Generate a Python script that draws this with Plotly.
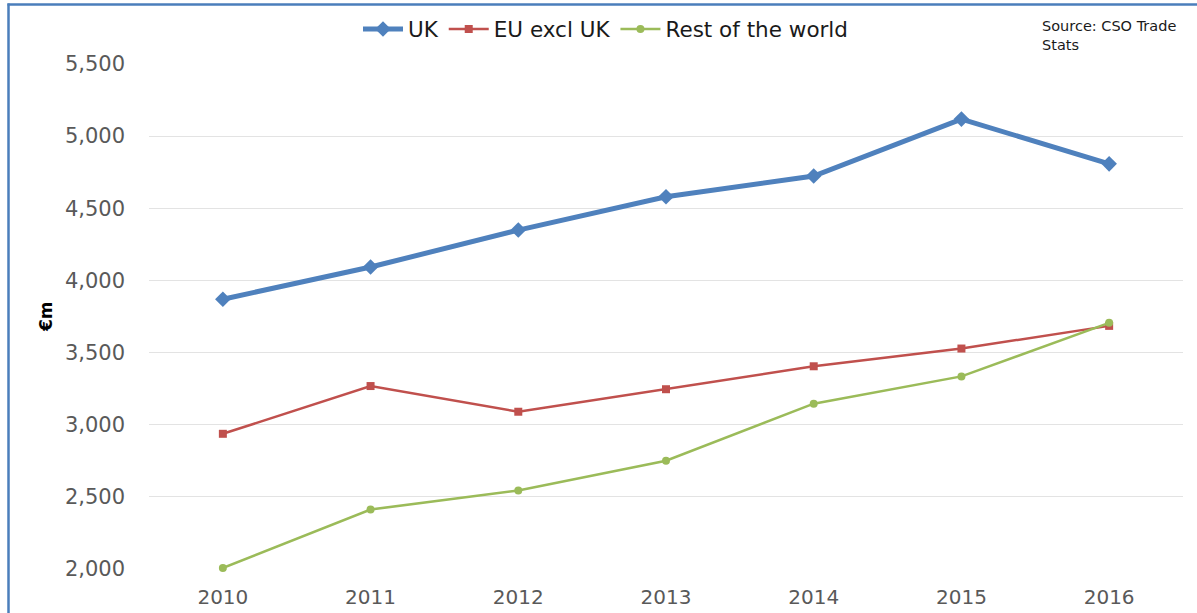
import plotly.graph_objects as go

years = ["2010", "2011", "2012", "2013", "2014", "2015", "2016"]
uk = [3870, 4093, 4349, 4580, 4724, 5118, 4808]
eu_excl_uk = [2937, 3268, 3090, 3246, 3405, 3528, 3685]
rest_of_world = [2007, 2412, 2544, 2750, 3146, 3335, 3706]
y_ticks = [2000, 2500, 3000, 3500, 4000, 4500, 5000, 5500]

# body margin is removed by post_script; work in page pixels
OFF = 0
W, H = 1197 - OFF, 613 - OFF
PL, PR, PT, PB = 149, 1183, 64, 569  # plot area in page pixels
L, R, T, B = PL - OFF, W - (PR - OFF), PT - OFF, H - (PB - OFF)
pw, ph = W - L - R, H - T - B

def px_x(p):
    return (p - OFF - L) / pw

def px_y(p):
    return (H - B - (p - OFF)) / ph

fig = go.Figure()
fig.add_trace(go.Scatter(
    x=years, y=uk, name="UK", mode="lines+markers",
    line=dict(color="#4F81BD", width=5),
    marker=dict(symbol="diamond", size=12, color="#4F81BD"),
    cliponaxis=False,
))
fig.add_trace(go.Scatter(
    x=years, y=eu_excl_uk, name="EU excl UK", mode="lines+markers",
    line=dict(color="#C0504D", width=2.5),
    marker=dict(symbol="square", size=8, color="#C0504D"),
    cliponaxis=False,
))
fig.add_trace(go.Scatter(
    x=years, y=rest_of_world, name="Rest of the world", mode="lines+markers",
    line=dict(color="#9BBB59", width=2.5),
    marker=dict(symbol="circle", size=8, color="#9BBB59"),
    cliponaxis=False,
))

fig.update_layout(
    width=W, height=H,
    margin=dict(l=L, r=R, t=T, b=B, autoexpand=False),
    paper_bgcolor="white", plot_bgcolor="white",
    font=dict(family="DejaVu Sans", size=20, color="#595959"),
    showlegend=True,
    legend=dict(
        orientation="h", x=px_x(358), xanchor="left",
        y=px_y(29), yanchor="middle",
        font=dict(family="DejaVu Sans", size=21.5, color="#1a1a1a"),
        itemwidth=40, tracegroupgap=0, bgcolor="rgba(0,0,0,0)",
    ),
    xaxis=dict(
        type="category", range=[-0.5, 6.5], showgrid=False,
        showline=False, ticks="", zeroline=False,
        ticklabelstandoff=14,
        tickfont=dict(size=20, color="#595959"),
    ),
    yaxis=dict(
        range=[2000, 5500], tickvals=y_ticks, tickformat=",",
        showgrid=True, gridcolor="#e3e3e3", gridwidth=1,
        zeroline=False, showline=False, ticks="",
        ticklabelstandoff=23,
        tickfont=dict(size=21, color="#595959"),
    ),
    shapes=[
        dict(type="line", xref="paper", yref="paper",
             x0=px_x(8.5), x1=px_x(8.5), y0=px_y(3.5), y1=px_y(613 + 5),
             line=dict(color="#4A7EBB", width=2.5)),
        dict(type="line", xref="paper", yref="paper",
             x0=px_x(7.5), x1=px_x(1197 + 5), y0=px_y(4.5), y1=px_y(4.5),
             line=dict(color="#4A7EBB", width=2.5)),
    ],
    annotations=[
        dict(text="Source: CSO Trade<br>Stats", xref="paper", yref="paper",
             x=px_x(1040), y=px_y(16), xanchor="left", yanchor="top",
             align="left", showarrow=False,
             font=dict(family="DejaVu Sans", size=14.5, color="#1a1a1a")),
        dict(text="<b>€m</b>", xref="paper", yref="paper",
             x=px_x(46), y=px_y(317), xanchor="center", yanchor="middle",
             textangle=-90, showarrow=False,
             font=dict(family="DejaVu Sans", size=17, color="#000000")),
    ],
)

fig.write_html(
    "out.html",
    config={"displayModeBar": False},
    post_script="document.body.style.margin='0';document.body.style.overflow='hidden';",
)
